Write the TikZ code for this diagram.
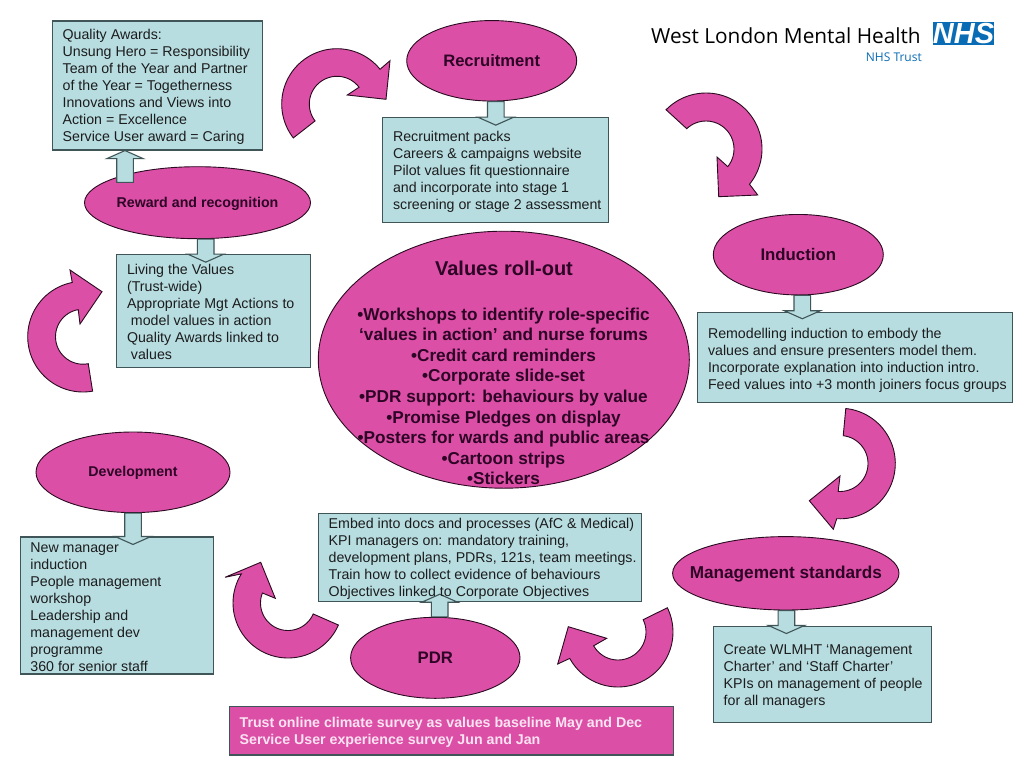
\documentclass[tikz,border=0pt]{standalone}
\usepackage{fontspec}
\setmainfont{Liberation Sans}
\newfontfamily\logofont{Open Sans}
\usetikzlibrary{shapes.geometric,calc}
\definecolor{pinkfill}{HTML}{DC4FA6}
\definecolor{bluefill}{HTML}{B7DDE1}
\definecolor{boxline}{HTML}{3F5557}
\definecolor{pinkline}{HTML}{2A0A20}
\definecolor{ink}{HTML}{1C1C1C}
\definecolor{pinkink}{HTML}{2E0426}
\definecolor{nhsblue}{HTML}{0A6CB5}
\definecolor{palepink}{HTML}{FBE3F2}
\tikzset{
  oval/.style={ellipse,draw=pinkline,fill=pinkfill,line width=0.9pt,inner sep=0pt,text=pinkink,align=center,text height=11pt,text depth=0pt},
  infobox/.style={rectangle,draw=boxline,fill=bluefill,line width=1.1pt,inner sep=0pt},
  boxtext/.style={anchor=west,inner sep=0pt,align=left,text=ink,font=\fontsize{14.2}{17}\selectfont},
  curlarrow/.style={draw=pinkline,fill=pinkfill,line width=0.9pt,line join=miter},
  blockshape/.style={draw=boxline,fill=bluefill,line width=1.1pt,line join=miter}
}
\newcommand{\blockarrow}[2]{%
  \coordinate (shoulder) at ($(#2)!8pt!(#1)$);
  \draw[blockshape] ($(#1)!8.3pt!90:(#2)$) -- ($(shoulder)!8.3pt!90:(#2)$) -- ($(shoulder)!18pt!90:(#2)$)
    -- (#2) -- ($(shoulder)!18pt!-90:(#2)$) -- ($(shoulder)!8.3pt!-90:(#2)$) -- ($(#1)!8.3pt!-90:(#2)$) -- cycle;
}
% centre x, centre y, outer radius, outer from, outer to, head points, inner radius, inner from, inner to
\newcommand{\curlshape}[9]{%
  \draw[curlarrow] plot[domain=#4:#5,samples=48] ({#1+#3*cos(\x)},{#2+#3*sin(\x)}) #6
    -- plot[domain=#8:#9,samples=32] ({#1+#7*cos(\x)},{#2+#7*sin(\x)}) -- cycle;
}
\begin{document}
\begin{tikzpicture}[x=1pt,y=-1pt]
\useasboundingbox[fill=white] (0,0) rectangle (1024,768);

% logo
\node[anchor=west,inner sep=0pt,text=black,font=\logofont\fontsize{20.8}{26}\selectfont] (logoname) at (651,36) {West London Mental Health};
\node[anchor=east,inner sep=0pt,text=nhsblue,font=\logofont\fontsize{12}{14}\selectfont] (logotrust) at (922,57) {NHS Trust};
\node[rectangle,fill=nhsblue,minimum width=61pt,minimum height=23pt,inner sep=0pt,text=white,font=\bfseries\itshape\fontsize{29}{29}\selectfont] (logonhs) at (963.5,33.6) {NHS};

% ovals
\node[oval,minimum width=170pt,minimum height=80.5pt,font=\bfseries\fontsize{16.6}{20}\selectfont] (rec) at (491.7,60.8) {Recruitment};
\node[oval,minimum width=226pt,minimum height=72pt,text height=9pt,font=\bfseries\fontsize{14.2}{18}\selectfont] (rew) at (197.5,202.7) {\makebox[0pt]{Reward and recognition}};
\node[oval,minimum width=170pt,minimum height=80.5pt,font=\bfseries\fontsize{16.8}{20}\selectfont] (ind) at (798.3,254.7) {Induction};
\node[oval,minimum width=371pt,minimum height=257pt] (val) at (503.8,359.7) {};
\node[oval,minimum width=226.4pt,minimum height=73.4pt,font=\bfseries\fontsize{17.2}{20}\selectfont] (mgt) at (785.8,573.3) {\makebox[0pt]{Management standards}};
\node[oval,minimum width=169.4pt,minimum height=81pt,font=\bfseries\fontsize{16.7}{20}\selectfont] (pdr) at (435.3,657.8) {PDR};
\node[oval,minimum width=194pt,minimum height=80.6pt,text height=9pt,font=\bfseries\fontsize{14.2}{18}\selectfont] (dev) at (133,472.3) {Development};

% boxes
\node[infobox,minimum width=210pt,minimum height=129pt] (qbox) at (157.3,85.5) {};
\node[infobox,minimum width=226pt,minimum height=105pt] (recbox) at (495.7,170.2) {};
\node[infobox,minimum width=193.6pt,minimum height=112.6pt] (livbox) at (213.5,311) {};
\node[infobox,minimum width=314.7pt,minimum height=90pt] (indbox) at (854.7,357.3) {};
\node[infobox,minimum width=218pt,minimum height=96.3pt] (mgtbox) at (822.3,674.2) {};
\node[infobox,minimum width=322.7pt,minimum height=88.4pt] (pdrbox) at (479.7,557.5) {};
\node[infobox,minimum width=193.3pt,minimum height=137pt] (devbox) at (116.7,605.5) {};
\node[rectangle,draw=boxline,fill=pinkfill,line width=1.1pt,minimum width=444pt,minimum height=48.3pt,inner sep=0pt] (survey) at (451.3,730.8) {};

% block arrows between ovals and boxes
\coordinate (recS) at ($(rec.south)+(4.1,0)$);
\coordinate (recT) at ($(recS |- recbox.north)+(0,8)$);
\blockarrow{recS}{recT}
\coordinate (rewupS) at (125,182.3);
\coordinate (rewupT) at (rewupS |- qbox.south);
\blockarrow{rewupS}{rewupT}
\coordinate (rewS) at ($(rew.south)+(8.2,0)$);
\coordinate (rewT) at ($(rewS |- livbox.north)+(0,8)$);
\blockarrow{rewS}{rewT}
\coordinate (indS) at ($(ind.south)+(4,0)$);
\coordinate (indT) at ($(indS |- indbox.north)+(0,7)$);
\blockarrow{indS}{indT}
\coordinate (mgtS) at ($(mgt.south)+(0.6,0)$);
\coordinate (mgtT) at ($(mgtS |- mgtbox.north)+(0,8)$);
\blockarrow{mgtS}{mgtT}
\coordinate (pdrS) at ($(pdr.north)+(4.4,0)$);
\coordinate (pdrT) at ($(pdrS |- pdrbox.south)+(0,-8)$);
\blockarrow{pdrS}{pdrT}
\coordinate (devS) at (dev.south);
\coordinate (devT) at ($(devS |- devbox.north)+(0,8)$);
\blockarrow{devS}{devT}

% curved arrows
\curlshape{706}{149}{56}{224.5}{399}{-- (757.7,195) -- (718.7,196.7) -- (717,157)}{28}{399}{226.5}
\curlshape{337}{104}{55.3}{142.2}{321.1}{-- (390,60.7) -- (386,99.3) -- (347.3,95)}{27.7}{322.8}{142.3}
\curlshape{83}{336.7}{55.3}{80}{258.8}{-- (70,270) -- (102,291.7) -- (80,324)}{27.5}{260}{79}
\curlshape{840}{463.5}{55.3}{-84}{93.4}{-- (833.3,529.3) -- (809.3,500.7) -- (840,476)}{28}{93.7}{-83.4}
\curlshape{618}{632}{55}{-26.2}{151.3}{-- (557.7,664) -- (568.3,626.7) -- (606.7,638.3)}{28}{150.5}{-26}
\curlshape{288}{603}{55}{23.6}{212}{-- (225,577.3) -- (260.7,562.3) -- (275.3,598.3)}{27.5}{201.4}{23.5}

% box texts
\node[boxtext] (qtext) at ($(qbox.west)+(10.7,1)$) {Quality Awards:\\Unsung Hero = Responsibility\\Team of the Year and Partner\\of the Year = Togetherness\\Innovations and Views into\\Action = Excellence\\Service User award = Caring};
\node[boxtext] (rectext) at ($(recbox.west)+(10.7,2)$) {Recruitment packs\\Careers \& campaigns website\\Pilot values fit questionnaire\\and incorporate into stage 1\\screening or stage 2 assessment};
\node[boxtext] (livtext) at ($(livbox.west)+(10.7,0.5)$) {Living the Values\\(Trust-wide)\\Appropriate Mgt Actions to\\\ model values in action\\Quality Awards linked to\\\ values};
\node[boxtext] (indtext) at ($(indbox.west)+(11,3)$) {Remodelling induction to embody the\\values and ensure presenters model them.\\Incorporate explanation into induction intro.\\Feed values into +3 month joiners focus groups};
\node[boxtext] (mgttext) at ($(mgtbox.west)+(10.7,2.5)$) {Create WLMHT ‘Management\\Charter’ and ‘Staff Charter’\\KPIs on management of people\\for all managers};
\node[boxtext] (pdrtext) at ($(pdrbox.west)+(10.7,1.5)$) {Embed into docs and processes (AfC \& Medical)\\KPI managers on: mandatory training,\\development plans, PDRs, 121s, team meetings.\\Train how to collect evidence of behaviours\\Objectives linked to Corporate Objectives};
\node[boxtext] (devtext) at ($(devbox.west)+(10.7,1.5)$) {New manager\\induction\\People management\\workshop\\Leadership and\\management dev\\programme\\360 for senior staff};
\node[boxtext,text=palepink,font=\bfseries\fontsize{14.2}{17.6}\selectfont] (surveytext) at ($(survey.west)+(10.7,1.5)$) {Trust online climate survey as values baseline May and Dec\\Service User experience survey Jun and Jan};

% central text
\node[inner sep=0pt,text=pinkink,font=\bfseries\fontsize{20}{22}\selectfont] (valtitle) at (504,268) {Values roll-out};
\node[anchor=north,inner sep=0pt,align=center,text=pinkink,font=\bfseries\fontsize{17.2}{20.6}\selectfont] (valtext) at (503.5,307.5)
 {•Workshops to identify role-specific\\‘values in action’ and nurse forums\\•Credit card reminders\\•Corporate slide-set\\•PDR support: behaviours by value\\•Promise Pledges on display\\•Posters for wards and public areas\\•Cartoon strips\\•Stickers};
\end{tikzpicture}
\end{document}
